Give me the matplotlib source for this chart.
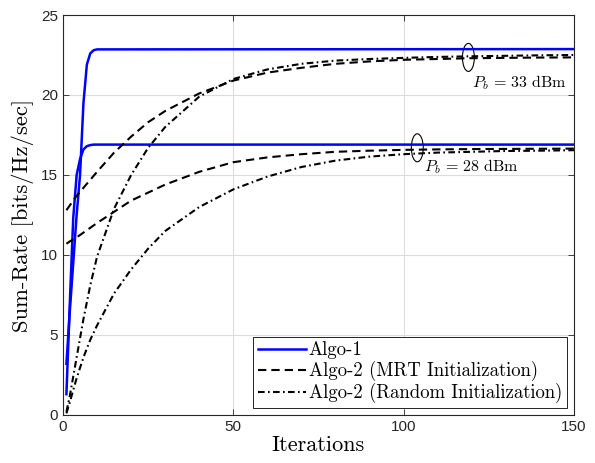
import matplotlib
matplotlib.use("Agg")
import matplotlib.pyplot as plt
from matplotlib.patches import Ellipse

plt.rcParams['mathtext.fontset'] = 'cm'

# ---- data ----
algo1_x = [1, 2, 3, 4, 5, 6, 7, 8, 9, 10, 150]
algo1_33 = [3.2, 6.5, 9.5, 12.5, 15.0, 19.5, 21.9, 22.6, 22.8, 22.85, 22.87]
algo1_28 = [1.3, 7.0, 12.3, 15.0, 16.0, 16.6, 16.8, 16.87, 16.9, 16.9, 16.9]

it_x = [1, 2, 4, 6, 8, 10, 15, 20, 25, 30, 40, 50, 60, 70, 80, 90, 100, 110, 120, 130, 140, 150]
mrt_33 = [12.8, 13.1, 13.7, 14.2, 14.7, 15.2, 16.4, 17.4, 18.3, 19.0, 20.1, 20.9, 21.4, 21.7,
          21.95, 22.1, 22.2, 22.25, 22.3, 22.32, 22.34, 22.35]
rnd_33 = [0.2, 1.2, 3.6, 6.0, 8.1, 9.9, 12.9, 15.0, 16.7, 18.0, 19.9, 21.0, 21.6, 21.95,
          22.15, 22.25, 22.32, 22.38, 22.42, 22.45, 22.48, 22.5]
mrt_28 = [10.7, 10.85, 11.1, 11.4, 11.7, 12.0, 12.7, 13.4, 13.9, 14.4, 15.2, 15.8, 16.1, 16.3,
          16.45, 16.52, 16.57, 16.6, 16.62, 16.63, 16.64, 16.65]
rnd_28 = [0.1, 0.8, 2.3, 3.6, 4.7, 5.6, 7.6, 9.1, 10.4, 11.5, 13.0, 14.1, 14.9, 15.5,
          15.9, 16.15, 16.3, 16.4, 16.45, 16.5, 16.52, 16.55]

labels = ['Algo-1', 'Algo-2 (MRT Initialization)', 'Algo-2 (Random Initialization)']
x_ticks = [0, 50, 100, 150]
y_ticks = [0, 5, 10, 15, 20, 25]
annot_33 = r'$P_b\,=\,33\ \mathrm{dBm}$'
annot_28 = r'$P_b\,=\,28\ \mathrm{dBm}$'

# ---- figure ----
fig = plt.figure(figsize=(5.95, 4.63), dpi=100)
ax = fig.add_axes([0.1059, 0.1037, 0.8588, 0.8639])

dash = (0, (4, 2.4))
dashdot = (0, (3.2, 1.6, 0.8, 1.6))
blue = '#0000ff'

l1, = ax.plot(algo1_x, algo1_33, color=blue, lw=1.8, label=labels[0])
ax.plot(algo1_x, algo1_28, color=blue, lw=1.8)
l2, = ax.plot(it_x, mrt_33, color='k', lw=1.5, linestyle=dash, label=labels[1])
ax.plot(it_x, mrt_28, color='k', lw=1.5, linestyle=dash)
l3, = ax.plot(it_x, rnd_33, color='k', lw=1.5, linestyle=dashdot, label=labels[2])
ax.plot(it_x, rnd_28, color='k', lw=1.5, linestyle=dashdot)

ax.add_patch(Ellipse((119, 22.35), 3.5, 1.75, fill=False, edgecolor='k', lw=0.8))
ax.add_patch(Ellipse((104, 16.7), 3.5, 1.75, fill=False, edgecolor='k', lw=0.8))
ax.text(120.0, 20.8, annot_33, fontsize=11.5, va='center', ha='left')
ax.text(106.0, 15.5, annot_28, fontsize=11.5, va='center', ha='left')

ax.set_xlim(0, 150)
ax.set_ylim(0, 25)
ax.set_xticks(x_ticks)
ax.set_yticks(y_ticks)
ax.grid(True, color='#dcdcdc', lw=0.8)
ax.set_axisbelow(True)
ax.tick_params(direction='in', top=True, right=True, length=4, width=0.6,
               colors='#262626', labelsize=11)
for lab in ax.get_xticklabels() + ax.get_yticklabels():
    lab.set_fontfamily('Liberation Sans')
for sp in ax.spines.values():
    sp.set_color('#262626')
    sp.set_linewidth(0.8)

ax.set_xlabel('Iterations', fontfamily='cmr10', fontsize=16, labelpad=1)
ax.set_ylabel('Sum-Rate [bits/Hz/sec]', fontfamily='cmr10', fontsize=16.3, labelpad=5)

leg = ax.legend(handles=[l1, l2, l3], loc='lower right', bbox_to_anchor=(0.986, 0.0175),
                prop={'family': 'cmr10', 'size': 13.5}, fancybox=False, framealpha=1,
                edgecolor='k', handlelength=2.56, handletextpad=0.16, borderpad=0.25,
                labelspacing=0.1, borderaxespad=0)
leg.get_frame().set_linewidth(0.6)

fig.savefig('out.png', dpi=100)
